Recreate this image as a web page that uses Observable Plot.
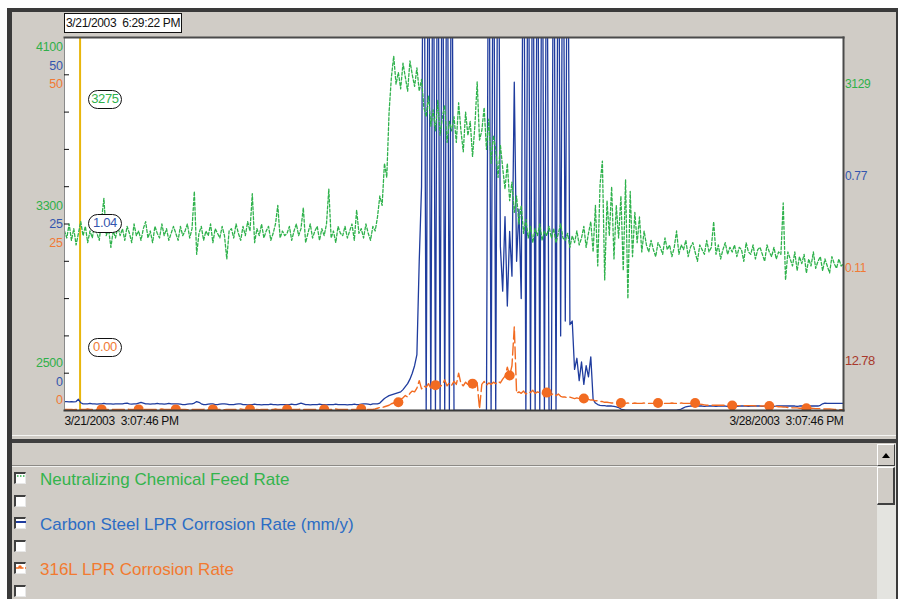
<!DOCTYPE html>
<html><head><meta charset="utf-8">
<script src="https://cdn.jsdelivr.net/npm/d3@7"></script>
<script src="https://cdn.jsdelivr.net/npm/@observablehq/plot@0.6"></script>
<style>
html,body{margin:0;padding:0;background:#fff;}
body{width:900px;height:599px;overflow:hidden;position:relative;font-family:"Liberation Sans",Arial,sans-serif;}
.narrow{font-family:"Liberation Sans",Arial,sans-serif;letter-spacing:-0.35px;}
#panel{position:absolute;left:7px;top:8px;width:891px;height:591px;background:#d0ccc6;border-left:5px solid #3a3a3a;border-top:4px solid #3a3a3a;border-right:2px solid #3a3a3a;box-sizing:border-box;}
#chart{position:absolute;left:0;top:0;}
#chart svg{background:transparent!important;}
svg text{white-space:pre;letter-spacing:-0.35px;}
.abs{position:absolute;}
.hdr{left:64px;top:13px;width:118px;height:20px;box-sizing:border-box;border:1px solid #111;background:#fff;font-size:12px;line-height:18px;padding-left:1px;color:#111;white-space:pre;}
.pill{width:34px;height:19px;box-sizing:border-box;border:1.5px solid #111;border-radius:10px;background:#fff;text-align:center;font-size:13px;line-height:16px;}
.ro{font-size:12px;line-height:14px;}
.cb{width:12px;height:12px;box-sizing:border-box;background:#fff;border-left:2px solid #404040;border-top:2px solid #404040;border-right:1px solid #e8e8e8;border-bottom:1px solid #e8e8e8;left:14px;}
.lg{left:40px;font-size:17px;line-height:20px;white-space:nowrap;}
</style></head><body>
<div id="panel"></div>
<div class="abs" style="left:12px;top:435px;width:884px;height:1px;background:#f4f4f2"></div>
<div class="abs" style="left:12px;top:439px;width:884px;height:4px;background:#3f3f3f"></div>
<div class="abs" style="left:12px;top:465px;width:865px;height:1px;background:#8c8a86"></div>
<div class="abs" style="left:12px;top:466px;width:865px;height:1px;background:#f2f2f0"></div>
<div id="chart"></div>
<div id="overlay"></div>
<script>
// ---- data -------------------------------------------------------------
const startTime = new Date(2003, 2, 21, 15, 7, 46);
const endTime = new Date(2003, 2, 28, 15, 7, 46);
const cursorTime = new Date(2003, 2, 21, 18, 29, 22);
const stepMinutes = 30;

// Neutralizing chemical feed rate (left green axis 2500-4100)
const feedRate = [
3270,3240,3300,3230,3280,3210,3260,3310,3250,3290,3220,3270,3240,3300,3260,3230,3320,3410,3250,3280,3200,3270,3240,3290,
3250,3280,3230,3290,3260,3220,3300,3250,3270,3230,3280,3310,3240,3270,3220,3290,3260,3240,3300,3250,3280,3230,3260,3290,
3260,3230,3290,3250,3270,3300,3240,3280,3440,3170,3260,3290,3230,3270,3250,3300,3220,3280,3260,3240,3290,3250,3150,3270,
3280,3240,3300,3260,3230,3290,3250,3310,3270,3430,3220,3280,3250,3300,3240,3270,3290,3230,3260,3300,3380,3240,3270,3250,
3260,3290,3230,3270,3300,3250,3280,3370,3220,3260,3300,3240,3270,3290,3230,3280,3250,3300,3450,3240,3270,3220,3290,3260,
3250,3290,3240,3270,3300,3230,3360,3260,3280,3240,3300,3260,3230,3290,3270,3330,3420,3380,3560,3500,3780,3930,4020,3900,
3950,3880,3990,3930,3870,4000,3940,3890,3970,3870,3920,3800,3760,3850,3720,3790,3700,3830,3680,3760,3810,3650,3740,3700,
3760,3650,3820,3700,3610,3780,3680,3740,3590,3720,3910,3660,3700,3800,3620,3750,3560,3680,3620,3500,3640,3540,3450,3560,
3400,3480,3350,3420,3300,3380,3260,3320,3240,3290,3220,3280,3250,3300,3230,3270,3250,3290,3240,3280,3220,3260,3300,3240,
3230,3260,3200,3250,3220,3270,3210,3240,3290,3200,3260,3310,3180,3380,3120,3470,3570,3060,3400,3250,3460,3150,3380,3240,
3420,3100,3490,2980,3440,3160,3350,3220,3330,3180,3270,3210,3180,3230,3190,3160,3220,3200,3170,3240,3190,3210,3160,3200,
3270,3170,3210,3190,3230,3160,3200,3220,3180,3140,3210,3190,3170,3230,3180,3200,3310,3170,3210,3150,3190,3220,3170,3200,
3180,3210,3160,3200,3190,3140,3220,3180,3170,3210,3150,3190,3200,3170,3140,3210,3180,3160,3200,3150,3180,3170,3390,3060,
3180,3150,3120,3180,3100,3160,3130,3170,3090,3150,3120,3180,3110,3140,3160,3100,3150,3120,3090,3160,3130,3110,3150,3120,3129
];

// Carbon steel LPR corrosion rate (left blue axis 0-50)
const carbonSteel = [
1.2,1.2,1.15,1.2,1.15,1.2,1.5,1.04,0.9,0.9,0.9,0.95,0.9,0.9,0.85,0.9,0.9,0.95,0.9,0.9,0.9,0.85,0.9,0.9,
0.9,0.9,0.95,1.0,0.9,0.85,0.9,0.9,1.0,1.1,1.0,0.9,0.9,0.85,0.9,0.9,0.95,0.9,0.9,0.85,0.9,0.95,0.9,0.9,
0.9,0.9,0.85,0.8,0.8,0.85,0.9,0.9,1.0,1.2,1.1,0.9,0.8,0.8,0.85,0.9,0.9,0.8,0.8,0.85,0.9,0.9,0.85,0.8,
0.8,0.8,0.85,0.9,0.9,0.8,0.8,0.75,0.8,0.8,0.85,0.8,0.8,0.75,0.8,0.8,0.8,0.85,0.8,0.8,0.75,0.8,0.8,0.8,
0.8,0.8,0.85,0.8,0.8,0.9,1.0,0.9,0.8,0.8,0.75,0.8,0.8,0.8,0.85,0.8,0.8,0.75,0.8,0.8,0.8,0.85,0.8,0.8,
0.8,0.8,0.75,0.8,0.8,0.85,0.8,0.8,0.85,0.9,0.9,0.85,0.8,0.9,0.9,0.9,1.0,1.3,1.6,1.8,2.0,2.1,2.2,2.3,
2.4,2.5,2.8,3.2,3.6,4.2,5.0,6.0,7.5,20,30,80,0,80,0,80,0,80,0,80,0,80,0,80,
0,0,0,0,0,0,0,0,0,0,0,0,0,0,0,80,0,80,0,80,22,16,26,14,
24,18,44,20,27,15,80,0,80,0,80,0,80,0,80,0,80,0,0,80,0,80,10,80,
12,80,11.5,12,5.5,7,4,6.5,3.5,6,4.5,7.2,1.5,1.0,0.8,0.7,0.65,0.65,0.6,0.6,0.6,0.55,0.5,0.4,
0.2,0.1,0.05,0.05,0.05,0.05,0.05,0.05,0.05,0.05,0.05,0.05,0.05,0.05,0.05,0.05,0.05,0.05,0.05,0.05,0.05,0.05,0.05,0.05,
0.05,0.1,0.2,0.35,0.5,0.55,0.6,0.6,0.55,0.6,0.6,0.6,0.55,0.6,0.6,0.6,0.6,0.55,0.6,0.6,0.6,0.6,0.55,0.6,
0.6,0.6,0.55,0.6,0.6,0.6,0.6,0.55,0.6,0.6,0.6,0.6,0.6,0.55,0.6,0.6,0.6,0.6,0.55,0.6,0.6,0.6,0.6,0.6,
0.6,0.6,0.6,0.6,0.55,0.6,0.6,0.6,0.6,0.6,0.6,0.6,0.6,0.6,0.7,0.9,1.0,0.95,0.95,0.95,0.95,0.95,0.95,0.95,0.95
];

// 316L LPR corrosion rate (left orange axis 0-50)
const steel316L = [
0.15,0.15,0.15,0.15,0.1,0.15,0.15,0.15,0.15,0.15,0.2,0.15,0.15,0.15,0.15,0.15,0.15,0.1,0.15,0.15,0.15,0.15,0.15,0.15,
0.15,0.15,0.15,0.2,0.15,0.15,0.15,0.15,0.15,0.1,0.15,0.15,0.15,0.15,0.15,0.15,0.15,0.15,0.2,0.15,0.15,0.15,0.15,0.15,
0.15,0.15,0.15,0.15,0.15,0.1,0.15,0.15,0.15,0.15,0.15,0.15,0.15,0.2,0.15,0.15,0.15,0.15,0.15,0.15,0.15,0.1,0.15,0.15,
0.15,0.15,0.15,0.15,0.2,0.15,0.15,0.15,0.15,0.15,0.15,0.15,0.1,0.15,0.15,0.15,0.15,0.15,0.15,0.2,0.15,0.15,0.15,0.15,
0.15,0.15,0.15,0.15,0.15,0.15,0.2,0.15,0.15,0.15,0.15,0.15,0.15,0.1,0.15,0.15,0.15,0.15,0.15,0.15,0.15,0.2,0.15,0.15,
0.15,0.15,0.15,0.15,0.15,0.15,0.15,0.15,0.2,0.15,0.15,0.15,0.15,0.15,0.2,0.3,0.4,0.4,0.5,0.6,0.7,0.9,1.0,1.1,
1.1,1.5,1.7,2.0,1.8,2.3,2.6,2.5,3.0,4.0,2.9,3.3,3.1,3.6,3.0,3.4,3.4,3.8,3.2,3.5,4.1,3.3,3.7,3.4,
3.9,3.5,5.0,3.6,3.3,3.8,3.5,3.4,3.6,3.9,3.7,0.2,3.5,3.9,3.4,3.7,3.5,3.8,3.6,3.9,3.7,4.2,4.6,5.8,
4.7,6.0,11.2,2.3,2.5,2.3,2.6,2.2,2.5,2.4,2.7,2.3,2.5,2.4,2.2,2.5,2.4,2.3,2.1,2.3,2.0,2.2,1.9,1.8,
1.8,1.7,1.8,1.7,1.6,1.7,1.6,1.6,1.6,1.5,1.5,1.4,1.4,1.3,1.3,1.2,1.2,1.1,1.1,1.05,1.0,1.0,1.0,1.0,
1.0,1.0,0.95,1.0,0.95,0.95,1.0,0.95,0.95,0.95,1.0,0.95,0.95,0.95,0.95,1.0,1.0,0.95,0.95,0.95,0.95,0.95,1.0,0.95,
0.95,0.95,1.0,0.95,0.95,0.95,0.95,1.0,1.0,0.9,0.85,0.8,0.75,0.7,0.7,0.7,0.7,0.7,0.7,0.7,0.7,0.7,0.7,0.7,
0.67,0.67,0.65,0.65,0.65,0.65,0.65,0.65,0.65,0.65,0.6,0.6,0.6,0.6,0.6,0.6,0.6,0.6,0.55,0.55,0.5,0.5,0.45,0.45,
0.4,0.4,0.35,0.35,0.35,0.3,0.3,0.3,0.3,0.3,0.3,0.28,0.25,0.25,0.25,0.22,0.2,0.2,0.2,0.18,0.15,0.15,0.12,0.11,0.11
];

const markerEvery = 16; // 316L marker every 8 hours

// axis labels (stacked left axis: green / blue / orange)
const feedTicks = [4100, 3300, 2500];
const carbonTicks = [50, 25, 0];
const s316Ticks = [50, 25, 0];
const minorTicks = [2660, 2820, 2980, 3140, 3300, 3460, 3620, 3780, 3940];

// readouts
const cursorReadouts = ["3275", "1.04", "0.00"];
const lastReadouts = ["3129", "0.77", "0.11", "12.78"];
const legendNames = ["Neutralizing Chemical Feed Rate", "Carbon Steel LPR Corrosion Rate (mm/y)", "316L LPR Corrosion Rate"];

// colours
const cGreen = "#2fb24c", cBlue = "#1f3c9e", cOrange = "#f26b21";
const cGreenTxt = "#2fb04a", cBlueTxt = "#3456ae", cOrangeTxt = "#f07a35", cRed = "#a8382c";

// ---- build ------------------------------------------------------------
const toFeed = d3.scaleLinear([0, 50], [2500, 4100]); // the mm/y series share the plot's y scale
const rows = feedRate.map((g, i) => ({
  t: new Date(+startTime + i * stepMinutes * 60000),
  g, b: carbonSteel[i], o: steel316L[i], i
}));
const fmt = d3.timeFormat("%-m/%-d/%Y  %-I:%M:%S %p");

const labelMarks = [];
const groupOffset = [28, 0, -29];
const rankOffset = [-18.5, 0, 18.5];
[[feedTicks, d => d, cGreenTxt], [carbonTicks, toFeed, cBlueTxt], [s316Ticks, toFeed, cOrangeTxt]].forEach(([ticks, conv, col], s) => {
  ticks.forEach((v, j) => {
    labelMarks.push(Plot.text([v], {
      frameAnchor: "left", y: d => conv(d), text: d => String(d),
      dx: -2, dy: groupOffset[j] + rankOffset[s], textAnchor: "end",
      fill: col, fontSize: 12.5
    }));
  });
});

const chart = Plot.plot({
  width: 900, height: 440,
  marginLeft: 64, marginRight: 57, marginTop: 37, marginBottom: 30,
  style: {background: "transparent", fontFamily: "'Liberation Sans',Arial,sans-serif", fontSize: "12px"},
  x: {type: "time", domain: [startTime, endTime], axis: null, label: null},
  y: {domain: [2500, 4100], axis: null, label: null},
  marks: [
    Plot.frame({fill: "white", stroke: null}),
    Plot.ruleX([cursorTime], {stroke: "#e8b60c", strokeWidth: 2}),
    Plot.line(rows, {x: "t", y: d => toFeed(d.b), stroke: cBlue, strokeWidth: 1.3, clip: true}),
    Plot.line(rows, {x: "t", y: "g", stroke: cGreen, strokeWidth: 1.3, strokeDasharray: "3,2", clip: true}),
    Plot.line(rows, {x: "t", y: d => toFeed(d.o), stroke: cOrange, strokeWidth: 1.4, strokeDasharray: "12,4", clip: true}),
    Plot.dot(rows.filter(d => d.i > 0 && d.i < rows.length - 1 && d.i % markerEvery === 0),
      {x: "t", y: d => toFeed(d.o), r: 5, fill: cOrange, stroke: null, clip: true}),
    Plot.frame({anchor: "left", stroke: "#8a8a8a", strokeWidth: 1}),
    Plot.frame({anchor: "top", stroke: "#4a4a4a", strokeWidth: 2}),
    Plot.frame({anchor: "right", stroke: "#4a4a4a", strokeWidth: 2}),
    Plot.frame({anchor: "bottom", stroke: "#3a3a3a", strokeWidth: 2}),
    Plot.axisY(minorTicks, {anchor: "left", tickSize: -5, tickFormat: () => "", label: null, stroke: "#111"}),
    ...labelMarks,
    Plot.axisX([startTime], {anchor: "bottom", tickSize: 0, tickPadding: 6, tickFormat: fmt, label: null, textAnchor: "start", fill: "#111", fontSize: 12}),
    Plot.axisX([endTime], {anchor: "bottom", tickSize: 0, tickPadding: 6, tickFormat: fmt, label: null, textAnchor: "end", fill: "#111", fontSize: 12})
  ]
});
document.getElementById("chart").appendChild(chart);

// ---- overlays (readouts, legend, scrollbar) ---------------------------
const ov = document.getElementById("overlay");
function add(html) { ov.insertAdjacentHTML("beforeend", html); }
add(`<div class="abs hdr narrow">${fmt(cursorTime)}</div>`);
const pillTops = [90, 214, 338];
const pillCols = [cGreenTxt, cBlueTxt, cOrangeTxt];
cursorReadouts.forEach((v, k) => add(`<div class="abs pill narrow" style="left:88px;top:${pillTops[k]}px;color:${pillCols[k]}">${v}</div>`));
const roTops = [77, 169, 261, 354];
const roCols = [cGreenTxt, cBlueTxt, cOrangeTxt, cRed];
lastReadouts.forEach((v, k) => add(`<div class="abs ro narrow" style="left:845px;top:${roTops[k]}px;color:${roCols[k]};${k === 3 ? "font-size:13px;letter-spacing:-0.6px" : ""}">${v}</div>`));

const cbTops = [472, 495, 517, 540, 562, 585];
const icons = [
  `<svg width="10" height="10" style="position:absolute;left:0;top:0"><line x1="1" y1="2" x2="10" y2="2" stroke="${cGreen}" stroke-width="1.5" stroke-dasharray="1.5,1.5"/></svg>`,
  "",
  `<svg width="10" height="10" style="position:absolute;left:0;top:0"><line x1="0" y1="3" x2="10" y2="3" stroke="${cBlue}" stroke-width="2"/></svg>`,
  "",
  `<svg width="10" height="10" style="position:absolute;left:0;top:0"><line x1="0" y1="4" x2="10" y2="4" stroke="${cOrange}" stroke-width="1.5" stroke-dasharray="3,1.5"/><circle cx="4" cy="3" r="1.8" fill="${cOrange}"/></svg>`,
  ""
];
cbTops.forEach((t, k) => add(`<div class="abs cb" style="top:${t}px">${icons[k]}</div>`));
const lgTops = [470, 515, 560];
const lgCols = ["#33b44c", "#2c6cc4", "#f27a30"];
legendNames.forEach((n, k) => add(`<div class="abs lg" style="top:${lgTops[k]}px;color:${lgCols[k]}">${n}</div>`));

// scrollbar
add(`<div class="abs" style="left:877px;top:444px;width:19px;height:155px;background:#e4e4e0"></div>`);
add(`<div class="abs" style="left:877px;top:444px;width:18px;height:22px;box-sizing:border-box;background:#d0ccc6;border-top:1px solid #fff;border-left:1px solid #fff;border-right:1px solid #404040;border-bottom:1px solid #404040;"><svg width="16" height="20"><path d="M4,13 L12,13 L8,8 Z" fill="#000"/></svg></div>`);
add(`<div class="abs" style="left:877px;top:467px;width:18px;height:38px;box-sizing:border-box;background:#d0ccc6;border-top:1px solid #fff;border-left:1px solid #fff;border-right:2px solid #404040;border-bottom:2px solid #404040;"></div>`);
</script>
</body></html>
